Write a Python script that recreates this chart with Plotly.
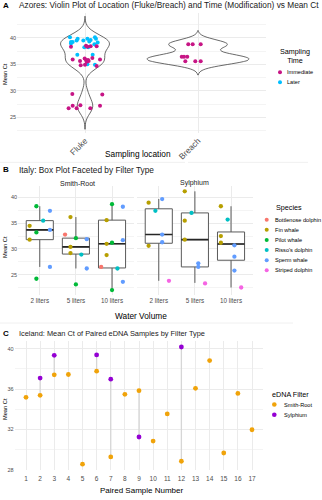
import numpy as np
import plotly.graph_objects as go

# ---------------- DATA ----------------
# Panel A: Azores
azores_location_names = ["Fluke", "Breach"]
azores_time_names = ["Immediate", "Later"]
azores_time_colors = ["#C71585", "#00BFFF"]

fluke_later_ct = [40.1, 39.2, 39.2, 38.9, 39.5, 39.8, 39.5, 39.8, 39.3, 39.6,
                  40.1, 39.8, 39.1, 38.8, 38.2, 38.2, 36.8, 36.8, 35.0, 34.9]
fluke_later_jit = [-0.133, -0.124, -0.109, -0.124, -0.074, -0.065, -0.015, 0.021, 0.038, 0.050,
                   0.088, 0.097, 0.112, 0.083, -0.006, 0.029, -0.068, 0.068, 0.021, 0.088]
fluke_imm_ct = [38.3, 38.5, 38.3, 38.4, 38.4, 35.9, 35.6, 36.1, 35.8, 35.8,
                35.5, 35.6, 36.2, 35.9, 34.8, 34.9, 34.7, 29.4, 29.3, 27.2,
                27.3, 27.2, 26.7, 26.7, 26.7]
fluke_imm_jit = [-0.124, 0.009, 0.021, 0.050, 0.103, -0.109, -0.044, -0.003, 0.009, 0.027,
                 0.015, 0.032, 0.065, 0.133, -0.038, 0.0, 0.103, -0.112, 0.153, -0.109,
                 -0.041, 0.133, -0.145, -0.074, 0.047]
breach_imm_ct = [38.8, 38.8, 38.8, 36.4, 36.4, 36.4, 35.55, 35.55, 35.55]
breach_imm_jit = [-0.086, -0.047, 0.024, -0.144, -0.124, -0.095, -0.112, -0.024, 0.024]

# Panel B: Italy
italy_filters = ["Smith-Root", "Sylphium"]
italy_volumes = ["2 liters", "5 liters", "10 liters"]
species_names = ["Bottlenose dolphin", "Fin whale", "Pilot whale",
                 "Risso's dolphin", "Sperm whale", "Striped dolphin"]
species_colors = ["#F8766D", "#B79F00", "#00BA38", "#00BFC4", "#619CFF", "#F564E3"]

italy_filter = (["Smith-Root"] * 29) + (["Sylphium"] * 22)
italy_volume = (["2 liters"] * 9 + ["5 liters"] * 9 + ["10 liters"] * 11 +
                ["2 liters"] * 7 + ["5 liters"] * 7 + ["10 liters"] * 8)
italy_species = [
    # Smith-Root 2 L
    "Fin whale", "Fin whale", "Pilot whale", "Pilot whale", "Pilot whale",
    "Risso's dolphin", "Sperm whale", "Sperm whale", "Sperm whale",
    # Smith-Root 5 L
    "Bottlenose dolphin", "Fin whale", "Fin whale", "Fin whale", "Pilot whale",
    "Pilot whale", "Risso's dolphin", "Sperm whale", "Sperm whale",
    # Smith-Root 10 L
    "Bottlenose dolphin", "Fin whale", "Fin whale", "Fin whale", "Pilot whale",
    "Pilot whale", "Pilot whale", "Risso's dolphin", "Sperm whale", "Sperm whale", "Sperm whale",
    # Sylphium 2 L
    "Fin whale", "Fin whale", "Risso's dolphin", "Sperm whale", "Sperm whale",
    "Sperm whale", "Striped dolphin",
    # Sylphium 5 L
    "Fin whale", "Fin whale", "Fin whale", "Risso's dolphin", "Sperm whale",
    "Sperm whale", "Striped dolphin",
    # Sylphium 10 L
    "Fin whale", "Fin whale", "Fin whale", "Risso's dolphin", "Sperm whale",
    "Sperm whale", "Sperm whale", "Striped dolphin",
]
italy_ct = [
    34.5, 31.8, 38.3, 33.2, 24.2, 35.5, 37.4, 33.7, 26.5,
    32.8, 36.2, 30.4, 29.2, 32.1, 23.1, 28.9, 31.9, 26.2,
    26.5, 35.6, 31.0, 28.8, 38.7, 31.2, 22.0, 26.2, 38.2, 31.7, 23.6,
    39.0, 30.6, 37.4, 39.7, 32.8, 31.3, 23.8,
    41.2, 35.5, 31.8, 37.0, 27.2, 26.5, 23.3,
    38.3, 32.5, 31.2, 35.7, 30.7, 28.5, 25.8, 22.5,
]
# box statistics (per filter, per volume)
box_low = {"Smith-Root": [26.5, 26.2, 22.0], "Sylphium": [23.8, 23.4, 22.5]}
box_q1 = {"Smith-Root": [31.8, 29.0, 26.3], "Sylphium": [31.1, 26.5, 27.8]}
box_med = {"Smith-Root": [33.7, 30.4, 31.0], "Sylphium": [32.8, 31.8, 30.95]}
box_q3 = {"Smith-Root": [35.5, 32.1, 35.6], "Sylphium": [37.8, 37.0, 33.3]}
box_high = {"Smith-Root": [38.3, 36.2, 38.7], "Sylphium": [39.7, 41.2, 38.3]}

# Panel C: Iceland
pair_number = list(range(1, 18))
smith_root_ct = [35.18, 35.38, 37.41, 37.44, 28.56, 37.77, 29.28, 35.48, 35.84,
                 30.85, 33.54, 28.85, 36.07, 38.82, 29.67, 35.57, 31.97]
sylphium_ct = [None, 37.08, 39.34, None, None, 39.38, 36.98, None, 31.25,
               None, None, 40.16, None, None, None, None, None]
filter_names = ["Smith-Root", "Sylphium"]
filter_colors = ["#F0A30A", "#9400D3"]

# ---------------- HELPERS ----------------
W, H = 322, 500
FONT = "Liberation Sans, Arial, sans-serif"
GRID = "#EBEBEB"
MINOR = "#F4F4F4"
TICK = "#4D4D4D"


def px(x):
    return x / W


def py(y):
    return 1 - y / H


def nrd0(v):
    v = np.asarray(v, dtype=float)
    sd = v.std(ddof=1)
    q75, q25 = np.percentile(v, [75, 25])
    return 0.9 * min(sd, (q75 - q25) / 1.34) * len(v) ** -0.2


def kde_max(v, bw):
    v = np.asarray(v, dtype=float)
    g = np.linspace(v.min() - 3 * bw, v.max() + 3 * bw, 512)
    d = np.exp(-0.5 * ((g[:, None] - v[None, :]) / bw) ** 2).sum(1) / (len(v) * bw * np.sqrt(2 * np.pi))
    return d.max()


fig = go.Figure()
annotations = []
shapes = []

# ---------------- PANEL A ----------------
fluke_all = np.array(fluke_later_ct + fluke_imm_ct)
breach_all = np.array(breach_imm_ct)
bw_f, bw_b = nrd0(fluke_all), nrd0(breach_all)
mf, mb = kde_max(fluke_all, bw_f), kde_max(breach_all, bw_b)
mmax = max(mf, mb)
for pos, vals, bw, m in [(0, fluke_all, bw_f, mf), (1, breach_all, bw_b, mb)]:
    fig.add_trace(go.Violin(
        y=vals, x0=pos, width=0.9 * m / mmax, bandwidth=bw,
        spanmode="manual", span=[vals.min() - 3 * bw, vals.max() + 3 * bw],
        points=False, fillcolor="rgba(255,255,255,0)",
        line=dict(color="#444444", width=0.8), showlegend=False,
        hoverinfo="skip", xaxis="x", yaxis="y"))

fig.add_trace(go.Scatter(
    x=[0 + j for j in fluke_later_jit], y=fluke_later_ct, mode="markers",
    marker=dict(color=azores_time_colors[1], size=4), showlegend=False,
    xaxis="x", yaxis="y"))
fig.add_trace(go.Scatter(
    x=[0 + j for j in fluke_imm_jit] + [1 + j for j in breach_imm_jit],
    y=fluke_imm_ct + breach_imm_ct, mode="markers",
    marker=dict(color=azores_time_colors[0], size=4), showlegend=False,
    xaxis="x", yaxis="y"))

# ---------------- PANEL B ----------------
n_it = len(italy_ct)
for fi, f in enumerate(italy_filters):
    xa = "x2" if fi == 0 else "x3"
    ya = "y2" if fi == 0 else "y3"
    fig.add_trace(go.Box(
        x=list(range(len(italy_volumes))), q1=box_q1[f], median=box_med[f],
        q3=box_q3[f], lowerfence=box_low[f], upperfence=box_high[f],
        width=0.75, whiskerwidth=0, boxpoints=False, fillcolor="white",
        line=dict(color="#5a5a5a", width=1), showlegend=False, hoverinfo="skip",
        xaxis=xa, yaxis=ya))
    mx, my = [], []
    for vi, m in enumerate(box_med[f]):
        mx += [vi - 0.375, vi + 0.375, None]
        my += [m, m, None]
    fig.add_trace(go.Scatter(x=mx, y=my, mode="lines",
                             line=dict(color="#262626", width=1.6),
                             showlegend=False, hoverinfo="skip", xaxis=xa, yaxis=ya))
    # dodge positions by species present in each group
    pts = {s: ([], []) for s in species_names}
    for vi, v in enumerate(italy_volumes):
        idx = [i for i in range(n_it) if italy_filter[i] == f and italy_volume[i] == v]
        present = [s for s in species_names if any(italy_species[i] == s for i in idx)]
        k = len(present)
        for i in idx:
            r = present.index(italy_species[i])
            pts[italy_species[i]][0].append(vi + (r - (k - 1) / 2) * 0.75 / k)
            pts[italy_species[i]][1].append(italy_ct[i])
    for s, c in zip(species_names, species_colors):
        if pts[s][0]:
            fig.add_trace(go.Scatter(x=pts[s][0], y=pts[s][1], mode="markers",
                                     marker=dict(color=c, size=4.3), showlegend=False,
                                     xaxis=xa, yaxis=ya))

# ---------------- PANEL C ----------------
sx, sy = [], []
for p, a, b in zip(pair_number, smith_root_ct, sylphium_ct):
    if a is not None and b is not None:
        sx += [p, p, None]
        sy += [a, b, None]
fig.add_trace(go.Scatter(x=sx, y=sy, mode="lines", line=dict(color="#D6D6D6", width=1.3),
                         showlegend=False, hoverinfo="skip", xaxis="x4", yaxis="y4"))
fig.add_trace(go.Scatter(x=pair_number, y=smith_root_ct, mode="markers",
                         marker=dict(color=filter_colors[0], size=4.8), showlegend=False,
                         xaxis="x4", yaxis="y4"))
fig.add_trace(go.Scatter(x=pair_number, y=sylphium_ct, mode="markers",
                         marker=dict(color=filter_colors[1], size=4.8), showlegend=False,
                         xaxis="x4", yaxis="y4"))

# ---------------- AXES ----------------
def xax(domain, rng, tickvals, ticktext, size, angle=0, standoff=0):
    return dict(domain=domain, range=rng, tickvals=tickvals, ticktext=ticktext,
                tickangle=angle, showgrid=True, gridcolor=GRID, gridwidth=1,
                zeroline=False, showline=False, ticks="", fixedrange=True,
                tickfont=dict(family=FONT, size=size, color=TICK),
                ticklabelstandoff=standoff)


def yax(domain, rng, tickvals, minorvals, anchor, showlabels=True):
    return dict(domain=domain, range=rng, tickvals=tickvals, showticklabels=showlabels,
                showgrid=True, gridcolor=GRID, gridwidth=1, zeroline=False,
                showline=False, ticks="", anchor=anchor, fixedrange=True,
                tickfont=dict(family=FONT, size=5.5, color=TICK),
                minor=dict(tickvals=minorvals, showgrid=True, gridcolor=MINOR, gridwidth=0.6))


dA_x = [px(17.2), px(265.8)]
dA_y = [py(134.2), py(13.3)]
dB1_x = [px(18.1), px(133.7)]
dB2_x = [px(137.1), px(252.7)]
dB_y = [py(296.8), py(187.5)]
dC_x = [px(14.7), px(263.3)]
dC_y = [py(472.9), py(343.2)]

layout = dict(
    width=W, height=H, margin=dict(l=0, r=0, t=0, b=0),
    paper_bgcolor="white", plot_bgcolor="white",
    violinmode="overlay", boxmode="overlay",
    font=dict(family=FONT),
    xaxis=xax(dA_x, [-0.6, 1.6], [0, 1], azores_location_names, 8.3, angle=-45),
    yaxis=yax(dA_y, [21.97, 44.63], [25, 30, 35, 40], [22.5, 27.5, 32.5, 37.5, 42.5], "x"),
    xaxis2=xax(dB1_x, [-0.6, 2.6], [0, 1, 2], italy_volumes, 6.3, standoff=1),
    yaxis2=yax(dB_y, [21.04, 42.16], [25, 30, 35, 40], [22.5, 27.5, 32.5, 37.5], "x2"),
    xaxis3=xax(dB2_x, [-0.6, 2.6], [0, 1, 2], italy_volumes, 6.3, standoff=1),
    yaxis3=yax(dB_y, [21.04, 42.16], [25, 30, 35, 40], [22.5, 27.5, 32.5, 37.5], "x3", False),
    xaxis4=xax(dC_x, [0.2, 17.8], pair_number, [str(p) for p in pair_number], 6.5, standoff=3),
    yaxis4=yax(dC_y, [27.98, 40.74], [28, 32, 36, 40], [30, 34, 38], "x4"),
)
layout["xaxis"]["anchor"] = "y"
layout["xaxis2"]["anchor"] = "y2"
layout["xaxis3"]["anchor"] = "y3"
layout["xaxis4"]["anchor"] = "y4"


def ann(text, x, y, size, color="#000000", xanchor="center", bold=False, angle=0):
    annotations.append(dict(
        text=("<b>%s</b>" % text) if bold else text, x=px(x), y=py(y),
        xref="paper", yref="paper", xanchor=xanchor, yanchor="middle",
        showarrow=False, textangle=angle, borderpad=0,
        font=dict(family=FONT, size=size, color=color)))


def dot(x, y, r, color):
    shapes.append(dict(type="circle", xref="paper", yref="paper",
                       xsizemode="pixel", ysizemode="pixel",
                       xanchor=px(x), yanchor=py(y), x0=-r, x1=r, y0=-r, y1=r,
                       fillcolor=color, line=dict(width=0)))


# panel titles
ann("A", 2.0, 5.5, 8.0, bold=True, xanchor="left")
ann("Azores: Violin Plot of Location (Fluke/Breach) and Time (Modification) vs Mean Ct",
    17.5, 5.5, 8.3, color="#1a1a1a", xanchor="left")
ann("B", 2.0, 171.0, 8.0, bold=True, xanchor="left")
ann("Italy: Box Plot Faceted by Filter Type", 17.5, 171.0, 8.3, color="#1a1a1a", xanchor="left")
ann("C", 2.0, 336.0, 8.0, bold=True, xanchor="left")
ann("Iceland: Mean Ct of Paired eDNA Samples by Filter Type", 17.5, 336.0, 7.4,
    color="#1a1a1a", xanchor="left")

# axis titles
ann("Mean Ct", 5.0, 74.5, 5.7, angle=-90)
ann("Mean Ct", 5.0, 248.5, 5.7, angle=-90)
ann("Mean Ct", 5.0, 411.5, 5.7, angle=-90)
ann("Sampling location", 137.7, 154.5, 8.3)
ann("Water Volume", 140.8, 318.3, 8.3)
ann("Paired Sample Number", 141.3, 493.7, 8.0)

# facet strips
ann(italy_filters[0], (18.1 + 133.7) / 2 + 1.5, 185.0, 7.0, color="#1a1a1a")
ann(italy_filters[1], (137.1 + 252.7) / 2, 184.5, 7.0, color="#1a1a1a")

# legends
ann("Sampling<br>Time", 294.5, 56.0, 7.2)
for i, (nm, c) in enumerate(zip(azores_time_names, azores_time_colors)):
    dot(280.0, 72.7 + 10 * i, 2.0, c)
    ann(nm, 286.2, 72.7 + 10 * i, 5.6, xanchor="left")

ann("Species", 289.0, 209.0, 7.2)
for i, (nm, c) in enumerate(zip(species_names, species_colors)):
    dot(266.7, 221.0 + 10.2 * i, 2.0, c)
    ann(nm, 273.8, 221.0 + 10.2 * i, 5.6, xanchor="left")

ann("eDNA Filter", 290.0, 396.7, 7.2)
for i, (nm, c) in enumerate(zip(filter_names, filter_colors)):
    dot(274.3, 407.0 + 10.3 * i, 2.3, c)
    ann(nm, 283.0, 407.0 + 10.3 * i, 5.6, xanchor="left")

# faint separators
for (x0, x1, y) in [(0, 185, 163.3), (188, 308, 163.3), (0, 293, 325.0)]:
    shapes.append(dict(type="line", xref="paper", yref="paper",
                       x0=px(x0), x1=px(x1), y0=py(y), y1=py(y),
                       line=dict(color="#F0F0F0", width=1)))

layout["annotations"] = annotations
layout["shapes"] = shapes
fig.update_layout(**layout)
fig.write_html("out.html")
